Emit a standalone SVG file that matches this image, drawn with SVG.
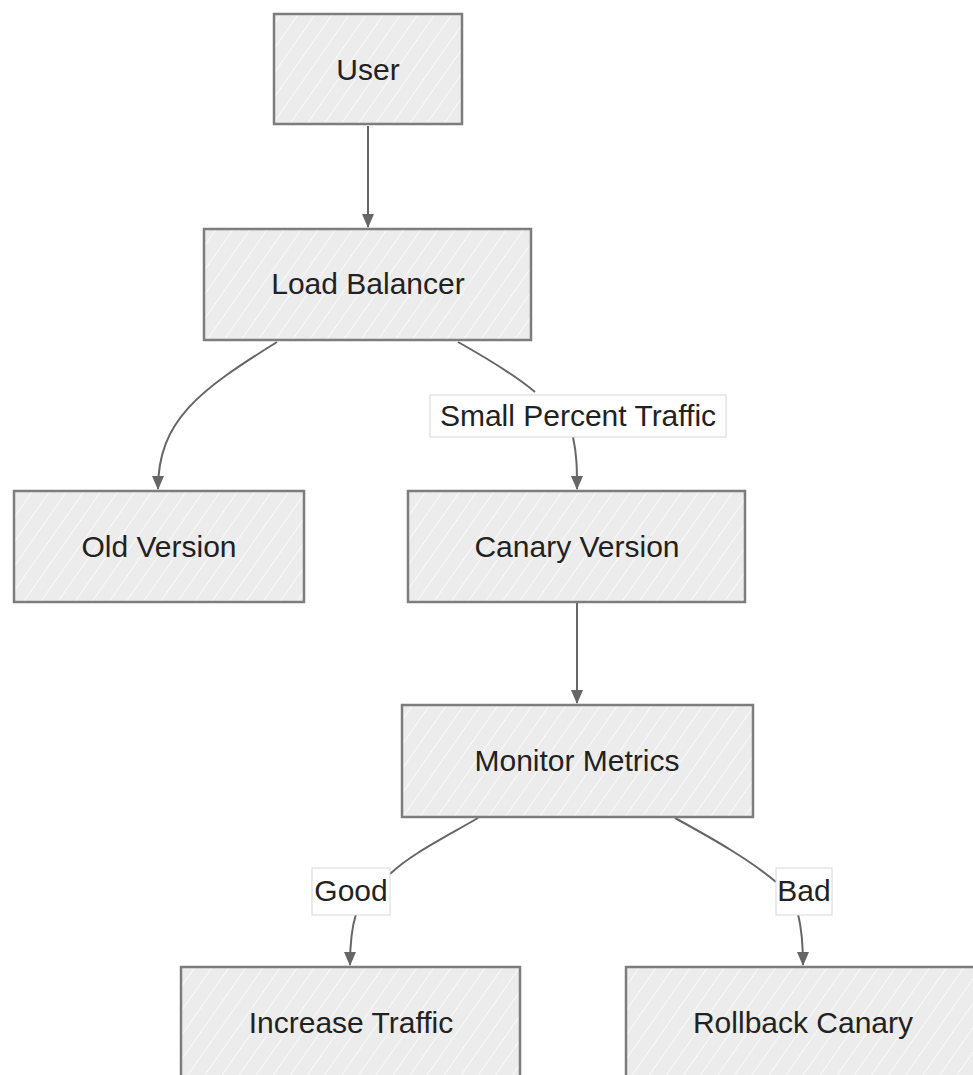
<svg xmlns="http://www.w3.org/2000/svg" width="973" height="1075" viewBox="0 0 973 1075">
<defs>
<pattern id="hatch" patternUnits="userSpaceOnUse" width="14" height="14" patternTransform="rotate(35)">
<rect width="14" height="14" fill="#ececec"/>
<line x1="0" y1="0" x2="0" y2="14" stroke="#f9f9f9" stroke-width="2"/>
</pattern>
<marker id="arr" viewBox="0 0 10 10" refX="9" refY="5" markerWidth="10" markerHeight="10" markerUnits="userSpaceOnUse" orient="auto">
<path d="M0,0 L10,5 L0,10 z" fill="#666"/>
</marker>
<marker id="arrow" viewBox="0 0 14 14" refX="13" refY="7" markerWidth="14" markerHeight="14" markerUnits="userSpaceOnUse" orient="auto">
<path d="M0,1 L14,7 L0,13 z" fill="#666"/>
</marker>
</defs>
<style>
.box{fill:url(#hatch);stroke:#7d7d7d;stroke-width:2.5}
.lbl{font-family:"Liberation Sans",Arial,sans-serif;font-size:30px;fill:#222;text-anchor:middle}
.edge{fill:none;stroke:#666;stroke-width:2;marker-end:url(#arrow)}
.eline{fill:none;stroke:#666;stroke-width:2}
.elbox{fill:#fff;stroke:#d8d8d8;stroke-width:1}
</style>
<rect width="973" height="1075" fill="#fff"/>
<g id="connectors">
<path class="edge" d="M368,126 L368,227"/>
<path class="edge" d="M277,342 C200,390 158,420 158,489"/>
<path class="eline" d="M458,342 C490,360 515,375 535,392"/>
<path class="edge" d="M573,437 C577,455 577,470 577,489"/>
<path class="edge" d="M577,603 L577,703"/>
<path class="eline" d="M478,818 C440,840 410,855 390,874"/>
<path class="edge" d="M356,914 C351,930 350,945 350,965"/>
<path class="eline" d="M675,818 C715,840 750,860 776,882"/>
<path class="edge" d="M798,914 C802,930 803,945 803,965"/>
</g>
<g id="edge-label-small">
<rect class="elbox" x="430" y="395" width="296" height="42"/>
<text class="lbl" x="578" y="426">Small Percent Traffic</text>
</g>
<g id="edge-label-good">
<rect class="elbox" x="312" y="868" width="78" height="47"/>
<text class="lbl" x="351" y="901">Good</text>
</g>
<g id="edge-label-bad">
<rect class="elbox" x="776" y="868" width="56" height="47"/>
<text class="lbl" x="804" y="901">Bad</text>
</g>
<g id="node-user">
<rect class="box" x="274" y="14" width="188" height="110"/>
<text class="lbl" x="368" y="80">User</text>
</g>
<g id="node-lb">
<rect class="box" x="204" y="229" width="327" height="111"/>
<text class="lbl" x="368" y="294">Load Balancer</text>
</g>
<g id="node-old">
<rect class="box" x="14" y="491" width="290" height="111"/>
<text class="lbl" x="159" y="557">Old Version</text>
</g>
<g id="node-canary">
<rect class="box" x="408" y="491" width="337" height="111"/>
<text class="lbl" x="577" y="557">Canary Version</text>
</g>
<g id="node-monitor">
<rect class="box" x="402" y="705" width="351" height="112"/>
<text class="lbl" x="577" y="771">Monitor Metrics</text>
</g>
<g id="node-increase">
<rect class="box" x="181" y="967" width="339" height="120"/>
<text class="lbl" x="351" y="1033">Increase Traffic</text>
</g>
<g id="node-rollback">
<rect class="box" x="626" y="967" width="360" height="120"/>
<text class="lbl" x="803" y="1033">Rollback Canary</text>
</g>
</svg>
